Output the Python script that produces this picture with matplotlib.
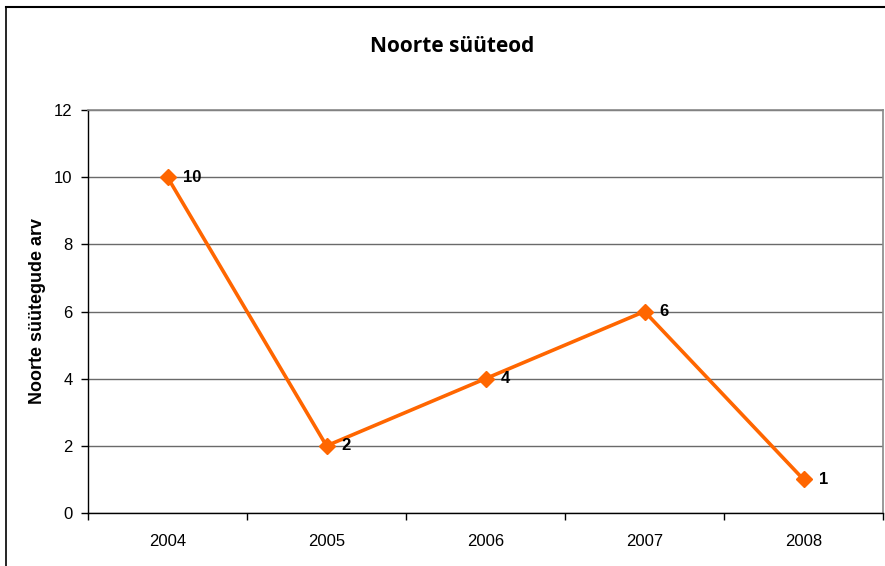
import matplotlib
matplotlib.use("Agg")
import matplotlib.pyplot as plt
from matplotlib.lines import Line2D

years = ["2004", "2005", "2006", "2007", "2008"]
values = [10, 2, 4, 6, 1]
yticks = [0, 2, 4, 6, 8, 10, 12]
title = "Noorte süüteod"
ylabel = "Noorte süütegude arv"

orange = "#FF6600"

fig = plt.figure(figsize=(8.85, 5.66), dpi=100)
ax = fig.add_axes([88/885, 53/566, 795/885, 403/566])

x = list(range(len(years)))
ax.plot(x, values, color=orange, lw=2.6, marker="D", ms=8.5, mec=orange, mfc=orange, zorder=3, clip_on=False)
for xi, v in zip(x, values):
    ax.annotate(str(v), (xi, v), xytext=(11, 0), textcoords="offset points",
                ha="left", va="center", fontsize=12, fontweight="bold",
                family="Liberation Sans", color="black", zorder=4)

ax.set_xlim(-0.5, len(years) - 0.5)
ax.set_ylim(0, 12)
ax.set_yticks(yticks)
ax.set_yticklabels([str(t) for t in yticks], family="Liberation Sans", fontsize=12)
ax.set_xticks(x)
ax.set_xticklabels(years, family="Liberation Sans", fontsize=12)
ax.tick_params(axis="x", length=0, pad=15)
ax.set_xticks([i - 0.5 for i in range(len(years) + 1)], minor=True)
ax.tick_params(axis="x", which="minor", length=5, width=1, color="black", direction="out")
ax.tick_params(axis="y", length=5, width=1, color="black", direction="out", pad=6)

ax.yaxis.grid(True, color="#6a6a6a", lw=1)
ax.set_axisbelow(True)
for side in ["top", "right"]:
    ax.spines[side].set_color("#888888")
    ax.spines[side].set_linewidth(1.2)
for side in ["left", "bottom"]:
    ax.spines[side].set_color("black")
    ax.spines[side].set_linewidth(1)

ax.set_ylabel(ylabel, family="Liberation Sans", fontsize=12.9, fontweight="bold")
ax.yaxis.set_label_coords(-(88 - 46) / 795, 0.5)

fig.text(452/885, 1 - 46/566, title, ha="center", va="center", fontsize=15, fontweight="bold", family="Open Sans")

fig.add_artist(Line2D([5.5/885, 5.5/885], [0, 1 - 7/566], color="black", lw=1.2, transform=fig.transFigure))
fig.add_artist(Line2D([5.5/885, 1], [1 - 7/566, 1 - 7/566], color="black", lw=1.5, transform=fig.transFigure))

fig.savefig("out.png", dpi=100)
